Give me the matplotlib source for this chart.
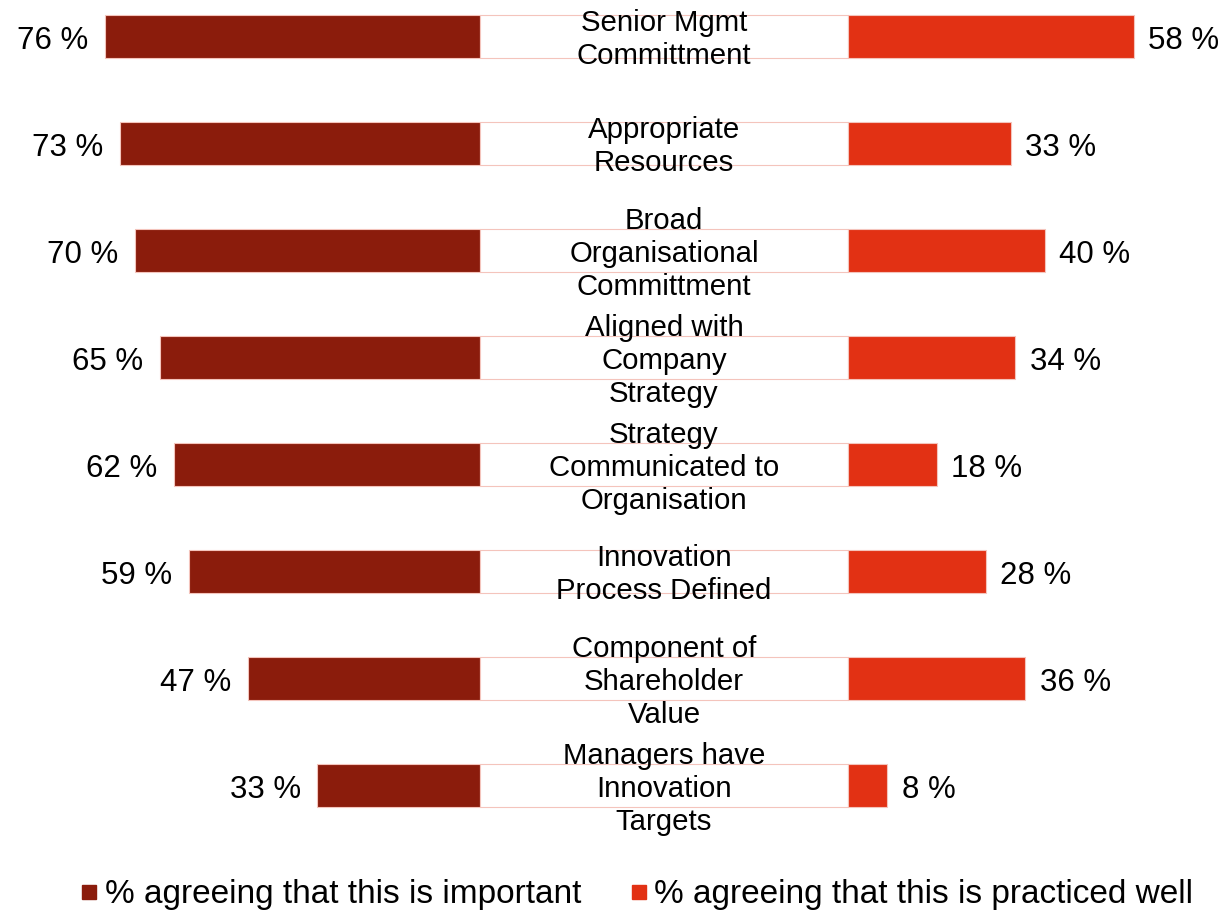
import matplotlib.pyplot as plt
from matplotlib.lines import Line2D

plt.rcParams['font.family'] = ['Liberation Sans', 'DejaVu Sans']

categories = [
    "Senior Mgmt\nCommittment",
    "Appropriate\nResources",
    "Broad\nOrganisational\nCommittment",
    "Aligned with\nCompany\nStrategy",
    "Strategy\nCommunicated to\nOrganisation",
    "Innovation\nProcess Defined",
    "Component of\nShareholder\nValue",
    "Managers have\nInnovation\nTargets",
]
important = [76, 73, 70, 65, 62, 59, 47, 33]
practiced = [58, 33, 40, 34, 18, 28, 36, 8]

dark = "#8B1C0C"
bright = "#E23114"
edge = "#F4C4BC"
gap = 74.6  # width of the central label column, in % units

fig = plt.figure(figsize=(12.2, 9.11), dpi=100)
ax = fig.add_axes([0, 0, 1, 1])

y = list(range(len(categories)))
h = 0.40
ax.barh(y, [-v for v in important], height=h, color=dark, edgecolor=edge, linewidth=0.8)
ax.barh(y, [gap] * len(y), height=h, color="white", edgecolor=edge, linewidth=0.8)
ax.barh(y, practiced, left=gap, height=h, color=bright, edgecolor=edge, linewidth=0.8)

for i, (cat, a, b) in enumerate(zip(categories, important, practiced)):
    ax.text(-a - 3.4, i + 0.045, f"{a} %", ha="right", va="center", fontsize=22.5)
    ax.text(gap + b + 2.9, i + 0.045, f"{b} %", ha="left", va="center", fontsize=22.5)
    ax.text(gap / 2, i + 0.03, cat, ha="center", va="center", fontsize=21.2, linespacing=1.22)

ax.set_xlim(-97.4, 150.1)
ax.set_ylim(8.173, -0.341)
ax.axis("off")

handles = [
    Line2D([], [], marker="s", linestyle="", color=dark, markersize=10.5),
    Line2D([], [], marker="s", linestyle="", color=bright, markersize=10.5),
]
fig.legend(handles, ["% agreeing that this is important", "% agreeing that this is practiced well"],
           loc="center", bbox_to_anchor=(0.5225, 1 - 895 / 911), ncol=2, frameon=False,
           fontsize=24, handlelength=0.45, handletextpad=0.25, columnspacing=1.5)

fig.savefig("out.png", dpi=100)
